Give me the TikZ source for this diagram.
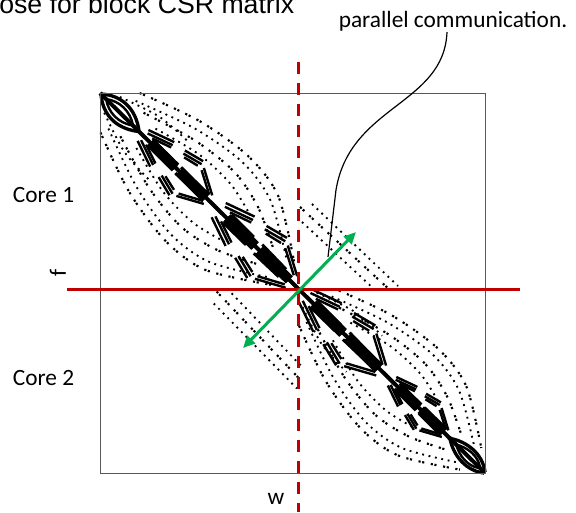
\documentclass[tikz,border=0pt]{standalone}
\usepackage{fontspec}
\setmainfont{Carlito}
\newfontfamily\titlefont{Liberation Sans}
\usetikzlibrary{arrows.meta}
\definecolor{cutred}{HTML}{C00000}
\definecolor{commgreen}{HTML}{00B050}
\definecolor{framegray}{HTML}{595959}
\tikzset{
  nzline/.style={line width=1.8pt},
  nzblock/.style={line width=7pt},
  nzdots/.style={line width=1.4pt,dash pattern=on 1.4pt off 3.5pt},
  nzpairs/.style={line width=1.6pt,dash pattern=on 1.6pt off 1.2pt on 1.6pt off 5pt},
  % one lens of non-zeros above the diagonal, unit frame
  lens/.pic={
    \draw[nzline] (0.15,0)--(0.49,0.16) (0.63,0.27)--(0.87,0.41) (0.88,0.5)--(0.99,0.86);
    \draw[nzline] (0.14,0.045)--(0.47,0.2) (0.61,0.31)--(0.85,0.45) (0.85,0.53)--(0.95,0.85);
    \draw[nzline] (0.2,0.11)--(0.45,0.23) (0.62,0.36)--(0.8,0.47);
    \draw[nzblock] (0.17,0.17)--(0.5,0.5) (0.55,0.55)--(0.9,0.9);
    \draw[line width=2.2pt] (0.22,0.14)--(0.48,0.4) (0.58,0.49)--(0.86,0.78);
  },
  dlens/.pic={
    \draw[nzpairs] plot[smooth] coordinates {(0.2,0) (0.5,0.14) (0.75,0.32) (0.9,0.52) (0.98,0.85)};
    \draw[nzdots] plot[smooth] coordinates {(0.18,0.04) (0.48,0.18) (0.72,0.35) (0.86,0.54) (0.94,0.83)};
    \draw[nzpairs] plot[smooth] coordinates {(0.22,0.1) (0.48,0.24) (0.68,0.4) (0.8,0.58) (0.88,0.8)};
    \draw[nzdots] plot[smooth] coordinates {(0.28,0.18) (0.5,0.31) (0.66,0.46) (0.76,0.62)};
    \draw[nzdots] plot[smooth] coordinates {(0.1,0.02) (0.3,0.12) (0.45,0.25)};
  }
}

\begin{document}
\begin{tikzpicture}[x=0.75pt,y=-0.75pt,
  label/.style={font=\fontsize{17.5}{21}\selectfont,inner sep=0pt},
  cut/.style={cutred,line width=2.25pt}]
\useasboundingbox (0,0) rectangle (576,512);
\clip (0,0) rectangle (576,512);

% title, cut off at the top
\node[font=\titlefont\fontsize{20}{24}\selectfont,anchor=base west,inner sep=0pt] (title) at (-1,13) {ose for block CSR matrix};

% sparsity pattern
\draw[line width=3pt] (100,93)--(485,473);
\foreach \ma/\mb/\mc/\md/\tx/\ty in {1/0/0/1/0/0,0.0131/-0.9999/-0.9999/-0.0131/4.28/4.33}{
\begin{scope}[cm={\ma,\mb,\mc,\md,(\tx pt,\ty pt)}]
  \draw[line width=2.5pt] (101,94) .. controls (121,95) and (136,108) .. (139,131);
  \draw[nzline] (106,99) .. controls (120,101) and (130,111) .. (133,125);
  \draw[line width=2.5pt] (448,438) .. controls (468,441) and (483,455) .. (485,472);
  \draw[nzline] (454,444) .. controls (468,447) and (478,456) .. (480,467);
  \pic[scale=76,transform shape] at (137,130) {lens};
  \pic[scale=85,transform shape] at (213,203) {lens};
  \pic[scale=89,transform shape] at (298,289) {lens};
  \pic[scale=62,transform shape] at (387,377) {lens};
  \pic[scale=198,transform shape] at (100,93) {dlens};
  \pic[scale=187,transform shape] at (298,289) {dlens};
  \draw[nzpairs] (300,207)--(392,292);
  \draw[nzdots] (312,204)--(398,286);
  \draw[nzdots] (302,222)--(375,290);
\end{scope}
}
\draw[framegray,line width=0.75pt] (100,93) rectangle (485,473);

% cuts between the two cores
\draw[cut,dash pattern=on 9pt off 6.75pt] (298,62)--(298,512);
\draw[cut] (67,289)--(520,289);

% labels
\node[label] (core1) at (43.5,195) {Core 1};
\node[label] (core2) at (43.5,378) {Core 2};
\node[label,rotate=90] (frow) at (58,273) {f};
\node[label] (wcol) at (276,499) {w};
\node[label,anchor=base,outer sep=1pt] (comm) at (453,27) {parallel communication.};

% exchange between the cores
\coordinate (arrowsw) at (243,348);
\coordinate (arrowne) at (356,232);
\draw[commgreen,line width=2.25pt,{Triangle[length=9pt,width=8pt]}-{Triangle[length=9pt,width=8pt]}] (arrowsw)--(arrowne);
\coordinate (callout) at (328,257);
\draw[line width=0.9pt] ([xshift=-4.5pt]comm.south) .. controls (444,105) and (350,105) .. (336,190) -- (callout);
\end{tikzpicture}
\end{document}
